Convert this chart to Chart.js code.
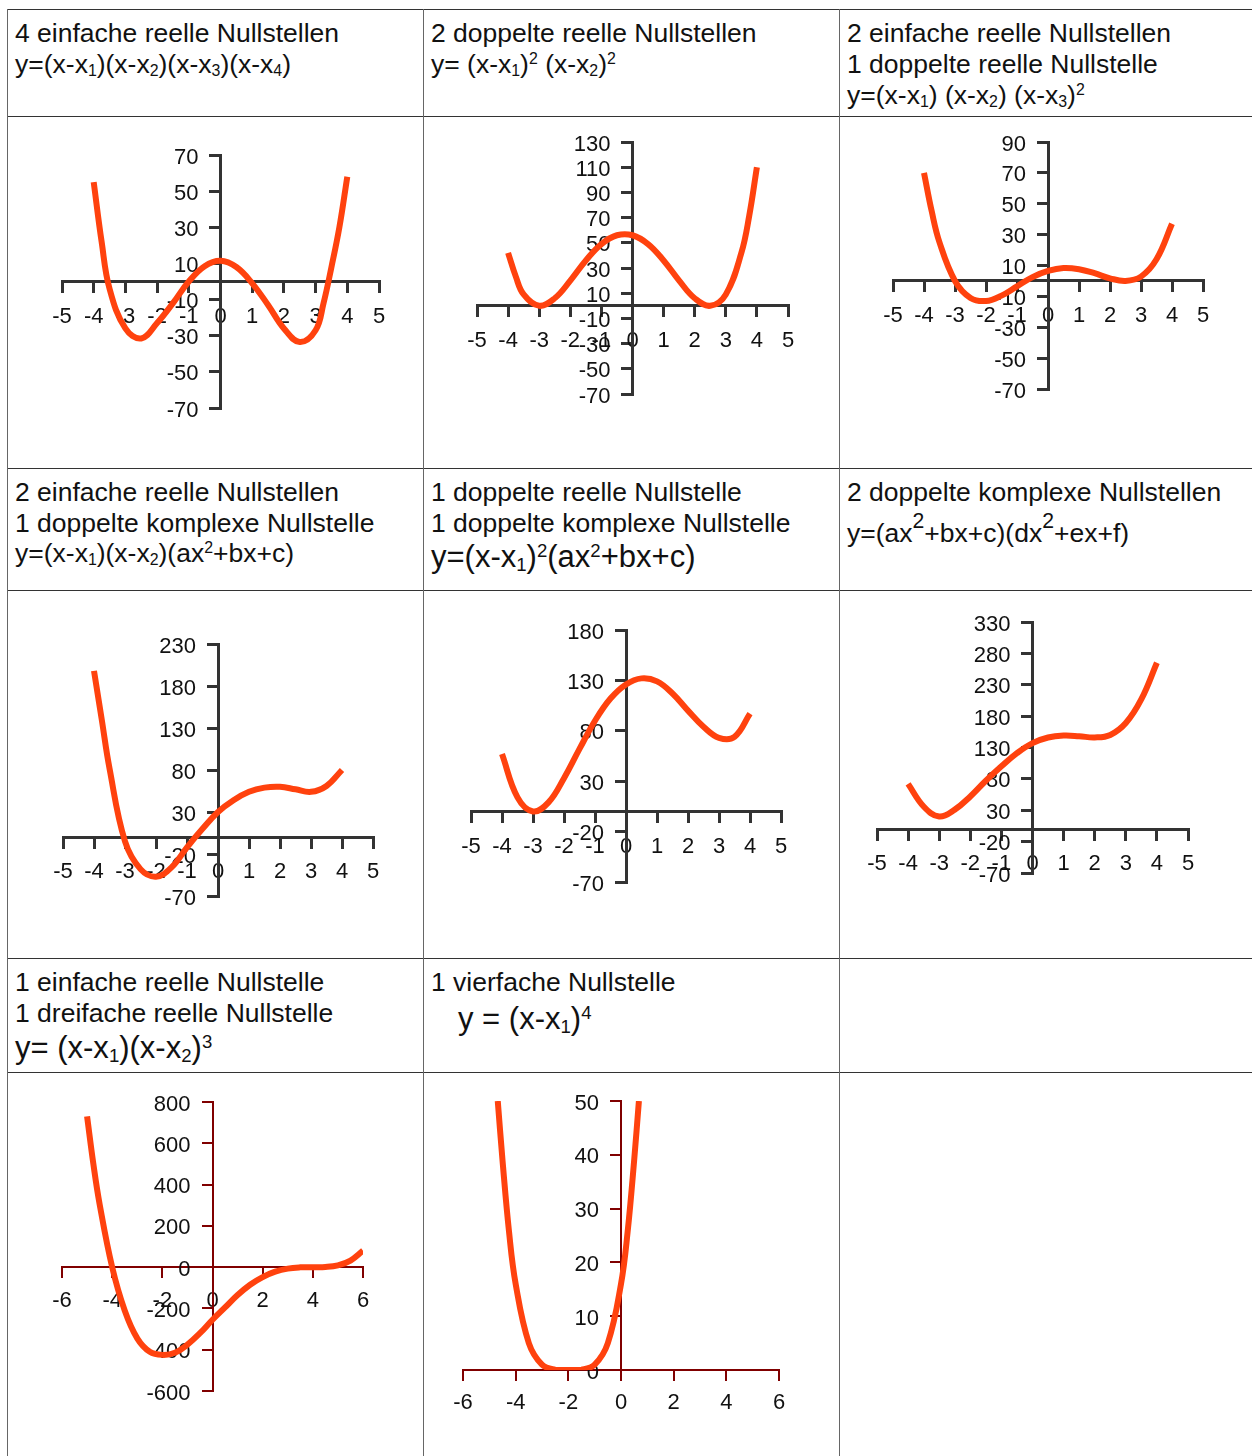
<!DOCTYPE html>
<html>
<head>
<meta charset="utf-8">
<script src="https://cdn.jsdelivr.net/npm/chart.js@4.4.1/dist/chart.umd.min.js"></script>
<style>
  body { margin: 0; width: 1252px; height: 1456px; overflow: hidden; background: #fff; position: relative;
         font-family: "Liberation Sans", Arial, sans-serif; color: #111; }
  .h { position: absolute; left: 7px; width: 1250px; height: 1px; background: #333; }
  .v { position: absolute; top: 9px; height: 1447px; width: 1px; background: #666; }
  .t { position: absolute; white-space: nowrap; font-size: 26.5px; line-height: 26px; }
  .t.big { font-size: 31px; line-height: 31px; }
  sub, sup { font-size: 0.6em; line-height: 0; }
  sub { vertical-align: -0.2em; }
  sup { vertical-align: 0.55em; }
  sup.b { font-size: 0.8em; vertical-align: 0.65em; }
  canvas { position: absolute; }
</style>
</head>
<body>
<div class="h" style="top:9px"></div>
<div class="h" style="top:116px"></div>
<div class="h" style="top:468px"></div>
<div class="h" style="top:590px"></div>
<div class="h" style="top:958px"></div>
<div class="h" style="top:1072px"></div>
<div class="v" style="left:7px"></div>
<div class="v" style="left:423px"></div>
<div class="v" style="left:839px"></div>

<div class="t" style="left:15px;top:20px">4 einfache reelle Nullstellen</div>
<div class="t" style="left:15px;top:51px">y=(x-x<sub>1</sub>)(x-x<sub>2</sub>)(x-x<sub>3</sub>)(x-x<sub>4</sub>)</div>

<div class="t" style="left:431px;top:20px">2 doppelte reelle Nullstellen</div>
<div class="t" style="left:431px;top:51px">y= (x-x<sub>1</sub>)<sup>2</sup> (x-x<sub>2</sub>)<sup>2</sup></div>

<div class="t" style="left:847px;top:20px">2 einfache reelle Nullstellen</div>
<div class="t" style="left:847px;top:51px">1 doppelte reelle Nullstelle</div>
<div class="t" style="left:847px;top:82px">y=(x-x<sub>1</sub>) (x-x<sub>2</sub>) (x-x<sub>3</sub>)<sup>2</sup></div>

<div class="t" style="left:15px;top:479px">2 einfache reelle Nullstellen</div>
<div class="t" style="left:15px;top:510px">1 doppelte komplexe Nullstelle</div>
<div class="t" style="left:15px;top:540px">y=(x-x<sub>1</sub>)(x-x<sub>2</sub>)(ax<sup>2</sup>+bx+c)</div>

<div class="t" style="left:431px;top:479px">1 doppelte reelle Nullstelle</div>
<div class="t" style="left:431px;top:510px">1 doppelte komplexe Nullstelle</div>
<div class="t big" style="left:431px;top:541px">y=(x-x<sub>1</sub>)<sup>2</sup>(ax<sup>2</sup>+bx+c)</div>

<div class="t" style="left:847px;top:479px">2 doppelte komplexe Nullstellen</div>
<div class="t" style="left:847px;top:520px">y=(ax<sup class="b">2</sup>+bx+c)(dx<sup class="b">2</sup>+ex+f)</div>

<div class="t" style="left:15px;top:969px">1 einfache reelle Nullstelle</div>
<div class="t" style="left:15px;top:1000px">1 dreifache reelle Nullstelle</div>
<div class="t big" style="left:15px;top:1032px">y= (x-x<sub>1</sub>)(x-x<sub>2</sub>)<sup>3</sup></div>

<div class="t" style="left:431px;top:969px">1 vierfache Nullstelle</div>
<div class="t big" style="left:458px;top:1003px">y = (x-x<sub>1</sub>)<sup>4</sup></div>

<canvas id="c1"></canvas>
<canvas id="c2"></canvas>
<canvas id="c3"></canvas>
<canvas id="c4"></canvas>
<canvas id="c5"></canvas>
<canvas id="c6"></canvas>
<canvas id="c7"></canvas>
<canvas id="c8"></canvas>

<script>
// values: x positions and y values per chart
const xs1 = [-4, -3.75, -3.5, -3, -2.5, -2, -1.5, -1, -0.5, 0, 0.5, 1, 1.5, 2, 2.5, 3, 3.25, 3.5, 3.75, 4];
const ys1 = [55, 22, -4, -26, -31.5, -23, -12, 0, 8.5, 11.5, 8, -1, -13, -26, -33.5, -27, -12, 8, 30, 58];

const xs2 = [-4, -3.75, -3.5, -3, -2.5, -2, -1.5, -1, -0.5, 0, 0.5, 1, 1.5, 2, 2.5, 3, 3.5, 3.75, 4];
const ys2 = [42, 23, 9, 0, 6, 20, 36, 49, 56, 56, 49, 36, 20, 6, 0, 9, 42, 71, 110];

const xs3 = [-4, -3.75, -3.5, -3, -2.5, -2, -1.5, -1, -0.5, 0, 0.5, 1, 1.5, 2, 2.5, 3, 3.5, 4];
const ys3 = [70, 45, 25, 0, -11, -13, -9.5, -3.5, 2.5, 6.5, 8.4, 7.6, 5, 1.7, 0, 2.8, 14, 37];

const xs4 = [-4, -3.75, -3.5, -3, -2.5, -2, -1.5, -1, -0.5, 0, 0.5, 1, 1.5, 2, 2.5, 3, 3.5, 4];
const ys4 = [198, 140, 82, -5, -38, -47, -36, -12, 10, 30, 44, 54, 59, 60, 57, 54, 61, 80];

const xs5 = [-4, -3.5, -3, -2.5, -2, -1.5, -1, -0.5, 0, 0.5, 1, 1.5, 2, 2.5, 3, 3.5, 4];
const ys5 = [57, 14, 0, 9, 33, 62, 90, 112, 126, 132, 129, 117, 100, 84, 73, 74, 97];

const xs6 = [-4, -3.5, -3, -2.5, -2, -1.5, -1, -0.5, 0, 0.5, 1, 1.5, 2, 2.5, 3, 3.5, 4];
const ys6 = [72, 36, 20, 31, 52, 77, 100, 121, 137, 146, 149, 148, 146, 150, 169, 207, 265];

const xs7 = [-5, -4.75, -4.5, -4, -3.5, -3, -2.5, -2, -1.5, -1, -0.5, 0, 0.5, 1, 1.5, 2, 2.5, 3, 3.5, 4, 4.5, 5, 5.5, 6];
const ys7 = [730, 500, 305, 0, -210, -345, -410, -425, -415, -375, -320, -255, -195, -135, -85, -48, -22, -7, -1, 0, 1, 9, 32, 80];

const xs8 = [-4.68, -4.5, -4.25, -4, -3.5, -3, -2.5, -2, -1.5, -1, -0.5, 0, 0.25, 0.5, 0.68];
const ys8 = [50, 39, 25.6, 16, 5, 1, 0.06, 0, 0.06, 1, 5, 16, 25.6, 39, 50];

// axis ranges: [min, max, step]
const xRangeA = [-5, 5, 1];
const xRangeB = [-6, 6, 2];
const yRange1 = [-70, 70, 20];
const yRange2 = [-70, 130, 20];
const yRange3 = [-70, 90, 20];
const yRange4 = [-70, 230, 50];
const yRange5 = [-70, 180, 50];
const yRange6 = [-70, 330, 50];
const yRange7 = [-600, 800, 200];
const yRange8 = [0, 50, 10];

const LINE_COLOR = '#ff420e';

function flatPad(s) {
  s.paddingLeft = s.paddingRight = s.paddingTop = s.paddingBottom = 0;
}

// box = plot area on the page: [left, top, width, height]
function makeChart(id, box, xs, ys, xr, yr, axisColor, axisWidth, xPad) {
  const P = 55;
  const cv = document.getElementById(id);
  cv.width = box[2] + 2 * P;
  cv.height = box[3] + 2 * P;
  cv.style.left = (box[0] - P) + 'px';
  cv.style.top = (box[1] - P) + 'px';

  const tickFont = { family: '"Liberation Sans", Arial, sans-serif', size: 22 };
  const grid = {
    drawOnChartArea: false, drawTicks: true, tickLength: 10,
    tickWidth: axisWidth, tickColor: axisColor, lineWidth: axisWidth, color: axisColor
  };
  const border = { display: true, color: axisColor, width: axisWidth };

  new Chart(cv, {
    type: 'line',
    data: {
      datasets: [{
        data: xs.map((x, i) => ({ x: x, y: ys[i] })),
        borderColor: LINE_COLOR,
        borderWidth: 6,
        pointRadius: 0,
        tension: 0.4,
        fill: false
      }]
    },
    options: {
      responsive: false,
      animation: false,
      events: [],
      layout: { padding: P },
      plugins: { legend: { display: false }, tooltip: { enabled: false } },
      scales: {
        x: {
          type: 'linear', min: xr[0], max: xr[1], position: { y: 0 },
          grid: grid, border: border,
          ticks: { stepSize: xr[2], autoSkip: false, maxRotation: 0, maxTicksLimit: 50, padding: xPad,
                   color: '#111', font: tickFont, callback: v => String(v) },
          afterFit: s => { s.height = 0; flatPad(s); }
        },
        y: {
          type: 'linear', min: yr[0], max: yr[1], position: { x: 0 },
          grid: grid, border: border,
          ticks: { stepSize: yr[2], autoSkip: false, maxTicksLimit: 50, padding: 0, labelOffset: 2.5,
                   color: '#111', font: tickFont, callback: v => v + '\u2003' },
          afterFit: s => { s.width = 0; flatPad(s); }
        }
      }
    }
  });
}

makeChart('c1', [62, 155, 317, 253], xs1, ys1, xRangeA, yRange1, '#333', 3, 12);
makeChart('c2', [477, 142, 311, 252], xs2, ys2, xRangeA, yRange2, '#333', 3, 12);
makeChart('c3', [893, 142, 310, 247], xs3, ys3, xRangeA, yRange3, '#333', 3, 12);
makeChart('c4', [63, 644, 310, 252], xs4, ys4, xRangeA, yRange4, '#333', 3, 12);
makeChart('c5', [471, 630, 310, 252], xs5, ys5, xRangeA, yRange5, '#333', 3, 12);
makeChart('c6', [877, 622, 311, 251], xs6, ys6, xRangeA, yRange6, '#333', 3, 12);
makeChart('c7', [62, 1102, 301, 289], xs7, ys7, xRangeB, yRange7, '#800000', 2, 11);
makeChart('c8', [463, 1101, 316, 269], xs8, ys8, xRangeB, yRange8, '#800000', 2, 10);
</script>
</body>
</html>
